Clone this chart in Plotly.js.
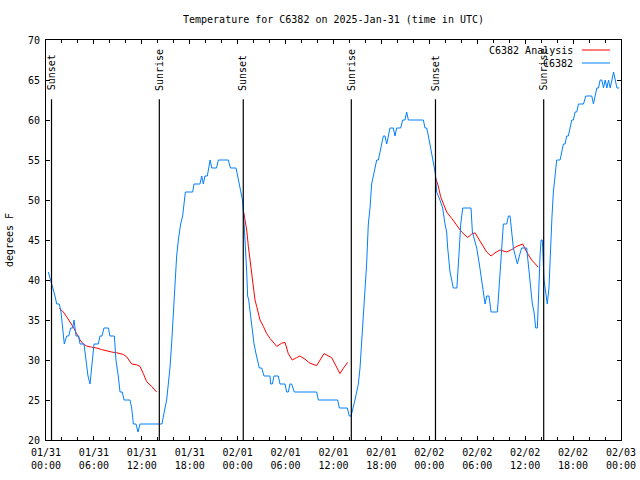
<!DOCTYPE html>
<html>
<head>
<meta charset="utf-8">
<script src="https://cdn.plot.ly/plotly-3.0.1.min.js"></script>
<style>html,body{margin:0;padding:0;background:#fff;}#chart{width:640px;height:480px;}</style>
</head>
<body>
<div id="chart"></div>
<script>
// Hours since 2025-01-31 00:00 UTC
const obsHours = [0.29,0.58,0.92,1.13,1.34,1.67,1.88,2.09,2.29,2.59,2.84,3.09,3.34,3.51,3.76,4.09,4.26,4.76,5.01,5.26,5.51,5.76,6.01,6.55,6.76,7.01,7.26,7.81,8.01,8.56,8.76,9.05,9.27,9.55,9.77,10.52,10.73,10.94,11.27,11.52,11.77,14.52,14.75,14.9,15.11,15.32,15.52,15.73,15.94,16.15,16.36,16.57,16.86,17.11,17.28,17.45,18.37,18.54,19.28,19.5,19.7,19.9,20.2,20.4,20.55,20.75,21.35,21.58,22.83,23.1,23.79,24.0,24.2,24.4,24.6,24.75,24.87,25.0,25.13,25.25,25.38,25.54,25.67,25.88,26.05,26.25,26.46,26.71,27.01,27.3,28.05,28.13,28.34,28.55,29.09,29.3,29.93,30.13,30.34,30.55,30.76,31.09,33.89,34.1,36.52,36.73,37.73,37.98,38.2,38.48,38.69,38.9,39.11,39.32,39.53,39.74,39.95,40.15,40.36,40.57,40.78,40.99,41.2,41.41,41.62,41.82,42.03,42.24,42.45,42.66,42.87,43.07,43.49,43.7,43.91,44.41,44.66,44.95,45.16,45.37,47.04,47.25,47.46,47.67,47.88,48.08,48.29,48.5,48.63,48.79,48.92,49.33,49.67,49.96,50.17,50.3,50.45,50.59,50.8,51.0,51.45,51.6,51.76,51.93,52.18,52.47,53.22,53.39,53.64,53.93,54.26,54.56,54.77,54.98,55.18,55.47,55.73,56.52,56.73,56.94,57.15,57.27,57.69,57.9,58.11,58.31,58.52,58.77,59.03,59.27,59.56,60.19,60.4,60.69,60.9,61.11,61.32,61.53,61.69,61.86,61.99,62.15,62.36,62.61,62.77,62.98,63.19,63.36,63.53,63.74,63.95,64.16,64.37,64.58,64.79,65.0,65.2,65.41,65.62,65.83,66.04,66.25,66.46,66.67,67.3,67.59,68.34,68.55,68.76,68.97,69.18,69.39,69.6,69.81,70.02,70.23,70.44,70.65,70.86,71.07,71.28,71.49,71.78];
const obsTemp = [41,40,39,38,37,37,36,34,32,33,33,34,34,35,33,33,32,32,30,28,27,30,32,32,33,33,34,34,33,33,30,28,26,26,25,25,24,22,22,21,22,22,23,24,25,27,29,32,36,40,43,45,47,48,50,51,51,52,52,53,52,53,53,54,55,54,54,55,55,54,54,53,52,51,50,48,45,43.5,41,38,37.5,36,35,33,32,31,30,29,29,28,28,27,27,28,28,27,27,26,26,27,27,26,26,25,25,24,24,23,23,24,25,26,27,29,32,35,38,42,47,49,52,53,54,55,55,56,57,58,58,57,58,59,59,58,59,59,60,60,61,60,60,60,59,59,58,57,56,55,54,53,51,50,49,47,46,44,42,41,40,39,39,41,44,47,49,49,49,46,45,44,42,40,38,37,38,38,36,36,39,42,46,47,47,48,48,46,44,43,42,43,44,44,42,39,37,36,34,34,40,43,45,45,40,38,37,39,45,48,51,53,55,55,55,56,57,57,58,58,59,60,60,61,61,62,62,63,63,62,63,64,64,65,65,64,65,64,65,64,65,66,65,64,64];

const anaHours = [1.67,2.17,2.59,3.01,3.42,3.84,4.26,4.67,5.09,5.72,6.34,6.97,7.6,8.22,8.85,9.68,10.1,10.73,11.35,11.77,12.19,12.6,13.23,13.85,null,24.75,24.92,25.13,25.34,25.54,25.75,25.96,26.17,26.38,26.59,26.8,27.22,27.63,28.05,28.47,28.89,29.51,29.93,30.34,30.84,31.39,31.8,32.43,33.05,33.89,34.81,35.77,36.39,36.81,37.23,37.77,null,48.75,49.1,49.42,49.75,50.17,50.8,51.43,52.05,52.8,53.3,53.72,54.35,55.18,55.73,56.23,56.85,57.69,58.31,58.94,59.69,60.19,60.81,61.65];
const anaTemp = [36.5,36.0,35.4,34.8,34.1,33.3,32.5,32.0,31.75,31.6,31.5,31.3,31.1,31.0,30.9,30.7,30.4,29.5,29.4,29.2,28.3,27.3,26.7,26.0,null,48.5,47.5,46.25,44.2,42.5,40.4,38.75,37.5,36.7,35.8,35.0,34.2,33.3,32.7,32.2,31.7,32.1,32.2,30.8,30.0,30.3,30.5,30.1,29.6,29.3,30.8,30.3,29.2,28.3,28.96,29.7,null,52.9,51.8,50.4,49.6,48.5,47.7,46.9,46.0,45.3,45.75,45.9,44.8,43.5,43.0,43.4,43.75,43.5,43.8,44.2,44.5,43.5,42.5,41.6];

const sunEventHours = [0.69, 14.19, 24.7, 38.23, 48.77, 62.32];
const sunEventLabels = ["Sunset","Sunrise","Sunset","Sunrise","Sunset","Sunrise"];

const xTickVals = [0,6,12,18,24,30,36,42,48,54,60,66,72];
const xTickText = ["01/31<br>00:00","01/31<br>06:00","01/31<br>12:00","01/31<br>18:00","02/01<br>00:00","02/01<br>06:00","02/01<br>12:00","02/01<br>18:00","02/02<br>00:00","02/02<br>06:00","02/02<br>12:00","02/02<br>18:00","02/03<br>00:00"];

const seriesNames = ["C6382 Analysis","C6382"];
const seriesColors = ["#ff0000","#0080ff"];
const titleText = "Temperature for C6382 on 2025-Jan-31 (time in UTC)";
const yTitle = "degrees F";

const FONT = "DejaVu Sans Mono, Liberation Mono, monospace";

const traces = [
  {x: anaHours, y: anaTemp, type:"scatter", mode:"lines", name: seriesNames[0],
   line:{color: seriesColors[0], width:1}, connectgaps:false, showlegend:false, hoverinfo:"skip"},
  {x: obsHours, y: obsTemp, type:"scatter", mode:"lines", name: seriesNames[1],
   line:{color: seriesColors[1], width:1}, showlegend:false, hoverinfo:"skip"}
];

const shapes = sunEventHours.map(h => ({type:"line", xref:"x", yref:"y", x0:h, x1:h, y0:20, y1:62.6,
  line:{color:"#000", width:1.2}, layer:"above"}));
const annotations = sunEventHours.map((h,i) => ({xref:"x", yref:"y", x:h, y:63.4, text:sunEventLabels[i],
  textangle:-90, showarrow:false, xanchor:"center", yanchor:"bottom", font:{family:FONT, size:10, color:"#000"}}));

// gnuplot-style key (text on left, sample on right)
const keyY = [0.975, 0.9425];
seriesNames.forEach((n,i) => {
  annotations.push({xref:"paper", yref:"paper", x:0.92, y:keyY[i], text:n, showarrow:false,
    xanchor:"right", yanchor:"middle", font:{family:FONT, size:10, color:"#000"}});
  shapes.push({type:"line", xref:"paper", yref:"paper", x0:0.932, x1:0.981, y0:keyY[i], y1:keyY[i],
    line:{color:seriesColors[i], width:1}});
});

const layout = {
  width:640, height:480, autosize:false,
  margin:{l:46, r:19, t:40, b:40, pad:0},
  paper_bgcolor:"#fff", plot_bgcolor:"#fff",
  showlegend:false,
  font:{family:FONT, size:10, color:"#000"},
  title:{text:titleText, x:0.5, xref:"paper", xanchor:"center", y:1-19/480, yref:"container", yanchor:"middle",
    font:{family:FONT, size:10, color:"#000"}},
  xaxis:{range:[0,72], tickmode:"array", tickvals:xTickVals, ticktext:xTickText,
    ticks:"inside", ticklen:4, tickcolor:"#000", showline:true, linecolor:"#000", linewidth:1, mirror:"allticks",
    showgrid:false, zeroline:false, tickfont:{family:FONT, size:10, color:"#000"}, ticklabelstandoff:3,
    minor:{dtick:2, tick0:0, ticks:"inside", ticklen:3, tickcolor:"#000", showgrid:false}},
  yaxis:{range:[20,70], tick0:20, dtick:5, ticks:"inside", ticklen:4, tickcolor:"#000",
    showline:true, linecolor:"#000", linewidth:1, mirror:"allticks", showgrid:false, zeroline:false,
    tickfont:{family:FONT, size:10, color:"#000"}, ticklabelstandoff:3,
    title:{text:yTitle, standoff:12, font:{family:FONT, size:10, color:"#000"}}},
  shapes: shapes,
  annotations: annotations
};

Plotly.newPlot("chart", traces, layout, {staticPlot:true, displayModeBar:false});
</script>
</body>
</html>
